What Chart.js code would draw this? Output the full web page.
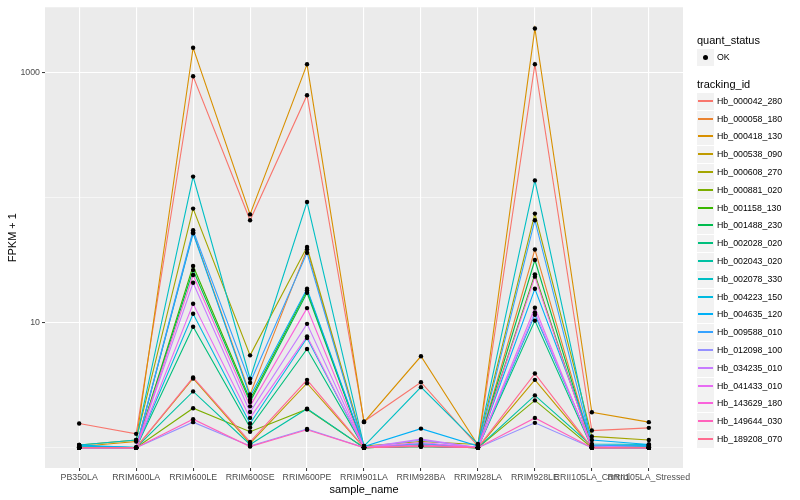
<!DOCTYPE html>
<html>
<head>
<meta charset="utf-8">
<script src="https://cdn.jsdelivr.net/npm/chart.js@4.4.1/dist/chart.umd.min.js"></script>
<style>
  body { margin: 0; background: #fff; font-family: "Liberation Sans", Arial, sans-serif; }
  #wrap { position: relative; width: 800px; height: 500px; }
  #legend { position: absolute; left: 0; top: 0; width: 800px; height: 500px; pointer-events: none; }
  .ttl { position: absolute; left: 697px; font-size: 11px; color: #000; line-height: 12px; }
  .key { position: absolute; left: 697px; width: 17px; height: 17px; background: #F2F2F2; }
  .lab { position: absolute; left: 717px; font-size: 8.8px; color: #000; line-height: 10px; }
</style>
</head>
<body>
<div id="wrap">
  <canvas id="chart" width="800" height="500"></canvas>
  <div id="legend"></div>
</div>
<script>
const categories = ['PB350LA', 'RRIM600LA', 'RRIM600LE', 'RRIM600SE', 'RRIM600PE', 'RRIM901LA',
  'RRIM928BA', 'RRIM928LA', 'RRIM928LE', 'RRII105LA_Control', 'RRII105LA_Stressed'];

const trackingIds = ['Hb_000042_280', 'Hb_000058_180', 'Hb_000418_130', 'Hb_000538_090', 'Hb_000608_270',
  'Hb_000881_020', 'Hb_001158_130', 'Hb_001488_230', 'Hb_002028_020', 'Hb_002043_020',
  'Hb_002078_330', 'Hb_004223_150', 'Hb_004635_120', 'Hb_009588_010', 'Hb_012098_100',
  'Hb_034235_010', 'Hb_041433_010', 'Hb_143629_180', 'Hb_149644_030', 'Hb_189208_070'];

const seriesColors = ['#F8766D', '#EA8331', '#D89000', '#C09B00', '#A3A500', '#7CAE00', '#39B600',
  '#00BB4E', '#00BF7D', '#00C1A3', '#00BFC4', '#00BAE0', '#00B0F6', '#35A2FF', '#9590FF',
  '#C77CFF', '#E76BF3', '#FA62DB', '#FF62BC', '#FF6C91'];

// FPKM + 1, one value per sample
const hb000042_280 = [1.56, 1.29, 942, 66.2, 664, 1.62, 3.34, 1.03, 1173, 1.37, 1.44];
const hb000058_180 = [1.0, 1.0, 53, 2.67, 38.7, 1.0, 1.04, 1.0, 38.6, 1.02, 1.0];
const hb000418_130 = [1.02, 1.12, 1592, 73.7, 1173, 1.60, 5.39, 1.05, 2270, 1.92, 1.60];
const hb000538_090 = [1.0, 1.0, 3.58, 1.08, 3.28, 1.0, 1.05, 1.0, 3.49, 1.0, 1.0];
const hb000608_270 = [1.05, 1.15, 82, 5.48, 40.4, 1.03, 1.12, 1.06, 74.8, 1.23, 1.15];
const hb000881_020 = [1.0, 1.0, 2.07, 1.34, 2.03, 1.0, 1.02, 1.0, 2.39, 1.0, 1.0];
const hb001158_130 = [1.0, 1.0, 28.5, 2.42, 18.2, 1.0, 1.03, 1.0, 24.4, 1.0, 1.0];
const hb001488_230 = [1.0, 1.0, 26.4, 2.32, 17.4, 1.0, 1.02, 1.0, 31.8, 1.0, 1.0];
const hb002028_020 = [1.0, 1.0, 9.3, 1.45, 6.17, 1.0, 1.02, 1.0, 10.4, 1.0, 1.0];
const hb002043_020 = [1.03, 1.0, 2.82, 1.06, 2.05, 1.0, 1.04, 1.0, 2.62, 1.03, 1.02];
const hb002078_330 = [1.05, 1.15, 148, 3.56, 92.6, 1.03, 3.05, 1.07, 138, 1.07, 1.06];
const hb004223_150 = [1.03, 1.0, 11.8, 1.56, 7.55, 1.0, 1.06, 1.0, 11.6, 1.04, 1.04];
const hb004635_120 = [1.05, 1.0, 52, 2.57, 18.7, 1.02, 1.42, 1.03, 18.7, 1.15, 1.06];
const hb009588_010 = [1.0, 1.0, 55, 3.31, 36.3, 1.0, 1.08, 1.0, 66.2, 1.05, 1.03];
const hb012098_100 = [1.0, 1.0, 1.60, 1.03, 1.41, 1.0, 1.15, 1.0, 1.58, 1.0, 1.0];
const hb034235_010 = [1.0, 1.0, 20.9, 1.93, 9.8, 1.0, 1.17, 1.0, 12.1, 1.03, 1.0];
const hb041433_010 = [1.0, 1.0, 14.2, 1.73, 7.78, 1.0, 1.1, 1.0, 13.2, 1.0, 1.0];
const hb143629_180 = [1.0, 1.0, 24.1, 2.14, 13.1, 1.0, 1.05, 1.0, 23.4, 1.0, 1.0];
const hb149644_030 = [1.0, 1.0, 1.69, 1.02, 1.39, 1.0, 1.02, 1.0, 1.73, 1.0, 1.0];
const hb189208_070 = [1.0, 1.0, 3.65, 1.11, 3.49, 1.0, 1.03, 1.0, 3.92, 1.0, 1.0];

const seriesValues = [hb000042_280, hb000058_180, hb000418_130, hb000538_090, hb000608_270,
  hb000881_020, hb001158_130, hb001488_230, hb002028_020, hb002043_020,
  hb002078_330, hb004223_150, hb004635_120, hb009588_010, hb012098_100,
  hb034235_010, hb041433_010, hb143629_180, hb149644_030, hb189208_070];

const yLabelBreaks = [10, 1000];
const yMinorBreaks = [1, 100];

const family = '"Liberation Sans", Arial, sans-serif';

const lineSets = seriesValues.map((vals, s) => ({
  label: trackingIds[s],
  data: vals.map((v, i) => ({ x: i, y: v })),
  borderColor: seriesColors[s],
  borderWidth: 1.1,
  pointRadius: 0,
  fill: false,
  tension: 0,
  order: -s
}));

const pointSet = {
  label: 'OK',
  type: 'scatter',
  data: seriesValues.flatMap(vals => vals.map((v, i) => ({ x: i, y: v }))),
  backgroundColor: '#000',
  borderWidth: 0,
  pointRadius: 2.2,
  showLine: false,
  order: -100
};

const panelBg = {
  id: 'panelBg',
  beforeDraw(chart) {
    const { ctx, chartArea: a } = chart;
    ctx.save();
    ctx.fillStyle = '#EBEBEB';
    ctx.fillRect(a.left, a.top, a.right - a.left, a.bottom - a.top);
    ctx.restore();
  }
};

const isMajor = c => c.tick && yLabelBreaks.includes(c.tick.value);

new Chart(document.getElementById('chart'), {
  type: 'line',
  data: { datasets: [pointSet].concat(lineSets) },
  options: {
    responsive: false,
    animation: false,
    devicePixelRatio: 1,
    layout: { padding: { top: 5, right: 117, left: 0, bottom: 0 } },
    plugins: { legend: { display: false }, tooltip: { enabled: false } },
    scales: {
      x: {
        type: 'linear',
        min: -0.6,
        max: 10.6,
        afterBuildTicks: sc => { sc.ticks = categories.map((c, i) => ({ value: i })); },
        afterFit: sc => { sc.height = 32; },
        ticks: {
          autoSkip: false, maxRotation: 0, minRotation: 0, padding: 1,
          color: '#4D4D4D', font: { size: 8.8, family },
          callback: v => categories[v]
        },
        grid: { color: '#fff', lineWidth: 1.1, tickLength: 3, tickColor: '#333333', tickWidth: 1 },
        border: { display: false },
        title: { display: true, text: 'sample_name', color: '#000', font: { size: 11, family }, padding: { top: 0, bottom: 3 } }
      },
      y: {
        type: 'logarithmic',
        min: 0.687,
        max: 3357,
        afterBuildTicks: sc => {
          sc.ticks = yMinorBreaks.concat(yLabelBreaks).sort((a, b) => a - b).map(v => ({ value: v }));
        },
        afterFit: sc => { sc.width = 45; },
        ticks: {
          padding: 2, color: '#4D4D4D', font: { size: 8.8, family },
          callback: v => yLabelBreaks.includes(v) ? String(v) : ''
        },
        grid: {
          color: '#fff',
          lineWidth: c => isMajor(c) ? 1.1 : 0.55,
          tickLength: 3,
          tickColor: c => isMajor(c) ? '#333333' : 'rgba(0,0,0,0)',
          tickWidth: 1
        },
        border: { display: false },
        title: { display: true, text: 'FPKM + 1', color: '#000', font: { size: 11, family }, padding: { top: 6 } }
      }
    }
  },
  plugins: [panelBg]
});

// legend (ggplot style, two guides)
const legend = document.getElementById('legend');
let html = '';
html += '<div class="ttl" style="top:34px">quant_status</div>';
html += '<div class="key" style="top:49px"><div style="position:absolute;left:6px;top:6px;width:5px;height:5px;border-radius:50%;background:#000"></div></div>';
html += '<div class="lab" style="top:52px">OK</div>';
html += '<div class="ttl" style="top:78px">tracking_id</div>';
trackingIds.forEach((id, i) => {
  const cy = Math.round(100.7 + i * 17.8);
  html += '<div class="key" style="top:' + (cy - 8) + 'px"><div style="position:absolute;left:1px;width:15px;top:7px;height:2px;background:' + seriesColors[i] + '"></div></div>';
  html += '<div class="lab" style="top:' + (cy - 5) + 'px">' + id + '</div>';
});
legend.innerHTML = html;
</script>
</body>
</html>
